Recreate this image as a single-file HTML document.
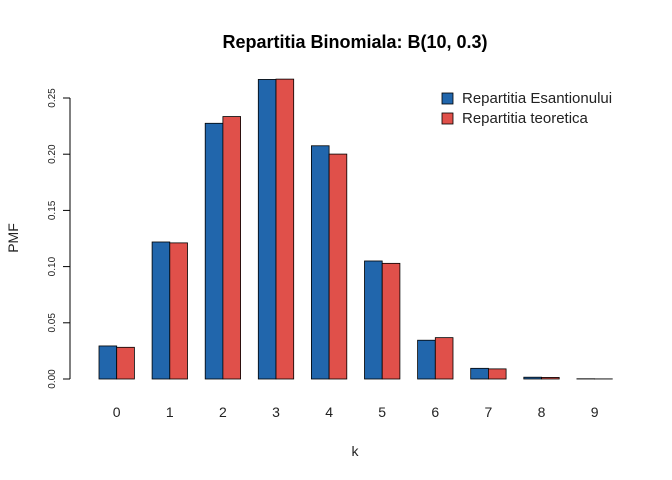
<!DOCTYPE html>
<html><head><meta charset="utf-8"><style>
body{margin:0;background:#fff}
svg{display:block;font-family:"Liberation Sans",Arial,sans-serif}
</style></head><body>
<svg id="chart" width="672" height="480">
<text x="355" y="48" text-anchor="middle" font-size="18" font-weight="bold">Repartitia Binomiala: B(10, 0.3)</text>
<text transform="translate(18,238) rotate(-90)" text-anchor="middle" font-size="14" fill="#222">PMF</text>
<text x="355" y="456" text-anchor="middle" font-size="14" fill="#222">k</text>
<g id="yaxis"></g>
<g id="bars"></g>
<g id="xlabels"></g>
<g>
<g><rect x="442" y="93" width="11" height="11" fill="#2166ac" stroke="#000" stroke-width="0.8"/><text x="462" y="103" font-size="15" fill="#222">Repartitia Esantionului</text></g>
<g><rect x="442" y="113" width="11" height="11" fill="#e0504a" stroke="#000" stroke-width="0.8"/><text x="462" y="123" font-size="15" fill="#222">Repartitia teoretica</text></g>
</g>
</svg>
<script>
const categories=["0","1","2","3","4","5","6","7","8","9"];
const sampleValues=[0.0294,0.1219,0.2275,0.2665,0.2075,0.1050,0.0345,0.0095,0.0016,0.0002];
const theoreticalValues=[0.0282,0.1211,0.2335,0.2668,0.2001,0.1029,0.0368,0.0090,0.0014,0.0001];
const yTicks=[0,0.05,0.10,0.15,0.20,0.25];
const yTickLabels=["0.00","0.05","0.10","0.15","0.20","0.25"];
const NS="http://www.w3.org/2000/svg";
const y0=379, pxPerUnit=(379-98)/0.25;
function yScale(v){return y0-v*pxPerUnit;}
const unit=17.7, x0=81.3;
function xBar(i,s){return x0+unit*(3*i+1+s);}
function mk(tag,attrs,parent){const e=document.createElementNS(NS,tag);for(const k in attrs)e.setAttribute(k,attrs[k]);parent.appendChild(e);return e;}
const ya=document.getElementById('yaxis');
const ax=mk('line',{x1:70,x2:70,y1:yScale(yTicks[0]),y2:yScale(yTicks[yTicks.length-1]),stroke:'#000'},ya);


yTicks.forEach((t,i)=>{const y=yScale(t);
const l=mk('line',{x1:63,x2:70,y1:y,y2:y,stroke:'#000'},ya);


const tx=mk('text',{transform:`translate(55,${y}) rotate(-90)`,'text-anchor':'middle','font-size':10,fill:'#222'},ya);
tx.textContent=yTickLabels[i];

});
const bg=document.getElementById('bars'), xl=document.getElementById('xlabels');
categories.forEach((c,i)=>{
[[sampleValues,'#2166ac',0],[theoreticalValues,'#e0504a',1]].forEach(([arr,col,s])=>{
const y=yScale(arr[i]);
const r=mk('rect',{x:xBar(i,s),y:y,width:unit,height:y0-y,fill:col,stroke:'#000','stroke-width':0.8},bg);

});
const t=mk('text',{x:xBar(i,1),y:417,'text-anchor':'middle','font-size':14,fill:'#222'},xl);
t.textContent=c;


});
</script>
</body></html>
